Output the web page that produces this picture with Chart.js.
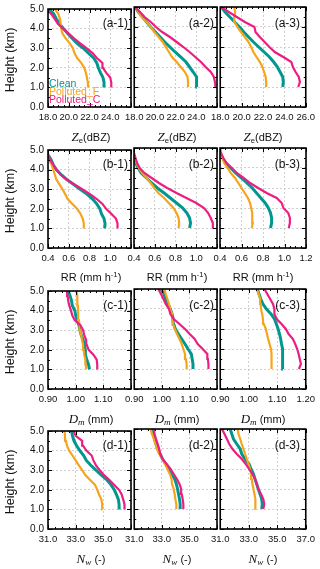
<!DOCTYPE html>
<html>
<head>
<meta charset="utf-8">
<script src="https://cdn.jsdelivr.net/npm/chart.js@4/dist/chart.umd.min.js"></script>
<style>
  body { margin: 0; background: #fff; }
  #fig { position: relative; width: 320px; height: 569px; overflow: hidden; color: #111; }
  #fig canvas { position: absolute; }
  .txt { position: absolute; white-space: nowrap; line-height: 1; font-family: "Liberation Sans", Arial, sans-serif; }
  .serif { font-family: "Liberation Serif", "DejaVu Serif", serif; font-style: italic; font-size: 13px; }
  sub { font-size: 70%; vertical-align: -2px; line-height: 0; }
  sup { font-size: 70%; vertical-align: 4px; line-height: 0; }
</style>
</head>
<body>
<div id="fig"></div>
<script>
// heights (km) shared by every profile
const heights = [1.0, 1.25, 1.5, 1.75, 2.0, 2.25, 2.5, 2.75, 3.0, 3.25, 3.5, 3.75, 4.0, 4.25, 4.5, 4.75, 5.0];
const heightTicks = [0, 1, 2, 3, 4, 5];

const seriesNames = ['Clean', 'Polluted_F', 'Polluted_C'];

// Ze (dBZ), one array per column
const zeClean = [
  [23.4, 23.4, 23.3, 23.05, 22.85, 22.7, 22.4, 21.9, 21.4, 20.8, 20.35, 19.9, 19.5, 19.1, 18.8, 18.55, 18.1],
  [24.05, 24.05, 24.0, 23.7, 23.35, 23.0, 22.5, 21.95, 21.45, 20.95, 20.5, 20.05, 19.6, 19.2, 18.8, 18.4, 18.1],
  [23.85, 23.9, 23.85, 23.6, 23.35, 23.0, 22.6, 22.1, 21.6, 21.1, 20.65, 20.2, 19.8, 19.35, 18.9, 18.45, 18.1]
];
const zeF = [
  [21.85, 21.85, 21.75, 21.65, 21.5, 21.2, 20.8, 20.55, 20.4, 20.1, 19.7, 19.4, 19.27, 19.22, 19.15, 19.0, 18.65],
  [23.2, 23.2, 23.15, 22.9, 22.5, 22.1, 21.65, 21.35, 21.05, 20.75, 20.35, 19.95, 19.6, 19.2, 18.7, 18.4, 18.15],
  [22.3, 22.3, 22.25, 22.1, 21.95, 21.7, 21.4, 21.1, 20.9, 20.65, 20.3, 19.95, 19.6, 19.35, 19.3, 19.4, 19.3]
];
const zeC = [
  [24.1, 24.1, 24.0, 23.6, 23.3, 23.25, 22.7, 22.3, 21.7, 21.1, 20.5, 20.0, 19.45, 18.95, 18.65, 18.3, 17.9],
  [25.85, 25.8, 25.7, 25.4, 24.9, 24.45, 23.9, 23.35, 22.75, 22.1, 21.45, 20.7, 20.1, 19.6, 19.0, 18.55, 18.1],
  [25.3, 25.45, 25.35, 25.05, 24.8, 24.65, 23.9, 23.1, 22.6, 22.15, 21.7, 21.3, 21.2, 20.3, 19.55, 18.8, 18.1]
];
const zeTicks = [18, 20, 22, 24, 26];

// RR (mm h-1)
const rrClean = [
  [0.946, 0.95, 0.94, 0.915, 0.90, 0.87, 0.83, 0.775, 0.71, 0.645, 0.58, 0.525, 0.48, 0.45, 0.43, 0.40, 0.37],
  [0.936, 0.945, 0.936, 0.91, 0.87, 0.81, 0.75, 0.69, 0.625, 0.57, 0.52, 0.47, 0.44, 0.415, 0.40, 0.38, 0.36],
  [0.87, 0.88, 0.88, 0.87, 0.85, 0.82, 0.78, 0.74, 0.70, 0.65, 0.60, 0.545, 0.50, 0.455, 0.425, 0.40, 0.37]
];
const rrF = [
  [0.745, 0.745, 0.735, 0.713, 0.68, 0.635, 0.59, 0.565, 0.54, 0.51, 0.48, 0.465, 0.45, 0.435, 0.41, 0.39, 0.36],
  [0.83, 0.835, 0.83, 0.81, 0.78, 0.735, 0.69, 0.635, 0.595, 0.56, 0.52, 0.48, 0.445, 0.425, 0.403, 0.38, 0.36],
  [0.695, 0.705, 0.70, 0.70, 0.69, 0.68, 0.66, 0.63, 0.60, 0.57, 0.54, 0.50, 0.47, 0.44, 0.42, 0.41, 0.41]
];
const rrC = [
  [1.07, 1.07, 1.055, 1.01, 0.96, 0.925, 0.87, 0.805, 0.73, 0.65, 0.575, 0.52, 0.48, 0.45, 0.42, 0.40, 0.37],
  [1.155, 1.16, 1.14, 1.115, 1.075, 1.0, 0.905, 0.81, 0.72, 0.64, 0.57, 0.50, 0.455, 0.43, 0.415, 0.40, 0.38],
  [1.04, 1.05, 1.05, 1.035, 0.99, 0.974, 0.927, 0.834, 0.755, 0.68, 0.62, 0.555, 0.51, 0.46, 0.43, 0.41, 0.37]
];
const rrTicks = [0.4, 0.6, 0.8, 1.0, 1.2];

// Dm (mm)
const dmClean = [
  [1.05, 1.0465, 1.04, 1.035, 1.035, 1.031, 1.027, 1.02, 1.015, 1.012, 1.006, 1.0, 0.997, 0.988, 0.985, 0.98, 0.973],
  [1.113, 1.113, 1.11, 1.107, 1.095, 1.084, 1.072, 1.06, 1.049, 1.043, 1.041, 1.037, 1.031, 1.022, 1.014, 1.008, 0.997],
  [1.12, 1.12, 1.12, 1.118, 1.117, 1.115, 1.112, 1.108, 1.103, 1.097, 1.09, 1.078, 1.062, 1.05, 1.042, 1.036, 1.03]
];
const dmF = [
  [1.038, 1.037, 1.035, 1.031, 1.029, 1.027, 1.023, 1.02, 1.015, 1.014, 1.012, 1.009, 1.009, 1.008, 1.006, 1.006, 1.003],
  [1.09, 1.09, 1.087, 1.084, 1.078, 1.072, 1.064, 1.055, 1.047, 1.041, 1.037, 1.037, 1.031, 1.026, 1.02, 1.014, 1.01],
  [1.08, 1.08, 1.08, 1.08, 1.078, 1.073, 1.068, 1.064, 1.06, 1.053, 1.05, 1.047, 1.043, 1.042, 1.04, 1.035, 1.028]
];
const dmC = [
  [1.078, 1.078, 1.076, 1.064, 1.047, 1.04, 1.038, 1.031, 1.027, 1.017, 0.997, 0.988, 0.983, 0.977, 0.973, 0.971, 0.969],
  [1.169, 1.169, 1.167, 1.165, 1.148, 1.13, 1.119, 1.101, 1.084, 1.064, 1.043, 1.031, 1.026, 1.014, 1.006, 0.997, 0.987],
  [1.176, 1.183, 1.179, 1.175, 1.17, 1.163, 1.155, 1.14, 1.13, 1.115, 1.098, 1.09, 1.09, 1.085, 1.075, 1.065, 1.055]
];
const dmTicks = [0.9, 1.0, 1.1, 1.2];

// Nw (-)
const nwClean = [
  [36.14, 36.14, 36.09, 35.95, 35.79, 35.56, 35.26, 34.86, 34.47, 34.09, 33.77, 33.58, 33.3, 33.07, 32.88, 32.77, 32.7],
  [34.33, 34.33, 34.28, 34.21, 34.14, 34.05, 33.93, 33.74, 33.51, 33.28, 33.05, 32.88, 32.7, 32.58, 32.47, 32.4, 32.3],
  [33.91, 33.95, 33.91, 33.79, 33.67, 33.56, 33.44, 33.33, 33.16, 33.02, 32.74, 32.51, 32.4, 32.16, 31.93, 31.81, 31.7]
];
const nwF = [
  [34.93, 34.92, 34.86, 34.7, 34.56, 34.4, 34.05, 33.7, 33.47, 33.23, 33.0, 32.77, 32.53, 32.37, 32.3, 32.23, 32.19],
  [34.05, 34.05, 33.98, 33.93, 33.86, 33.74, 33.7, 33.58, 33.4, 33.23, 33.05, 32.81, 32.65, 32.53, 32.42, 32.28, 32.19],
  [33.49, 33.49, 33.44, 33.4, 33.33, 33.26, 33.21, 33.16, 33.09, 32.98, 32.86, 32.74, 32.63, 32.51, 32.4, 32.28, 32.23]
];
const nwC = [
  [36.53, 36.53, 36.44, 36.33, 36.14, 35.79, 35.44, 35.05, 34.74, 34.47, 34.28, 34.16, 33.77, 33.53, 33.47, 33.0, 32.84],
  [34.56, 34.56, 34.51, 34.44, 34.4, 34.28, 34.09, 33.86, 33.63, 33.35, 33.05, 32.88, 32.81, 32.7, 32.58, 32.47, 32.42],
  [34.02, 34.09, 34.02, 33.86, 33.67, 33.56, 33.44, 33.26, 33.02, 32.79, 32.51, 32.16, 31.86, 31.63, 31.47, 31.3, 31.12]
];
const nwTicks = [31, 33, 35, 37];

const rows = [
  { key: 'a', series: [zeClean, zeF, zeC], ticks: zeTicks, dec: 1, minor: 4, title: '<span class="serif">Z</span><sub>e</sub>(dBZ)' },
  { key: 'b', series: [rrClean, rrF, rrC], ticks: rrTicks, dec: 1, minor: 4, title: 'RR (mm h<sup>-1</sup>)' },
  { key: 'c', series: [dmClean, dmF, dmC], ticks: dmTicks, dec: 2, minor: 4, title: '<span class="serif">D<sub>m</sub></span> (mm)' },
  { key: 'd', series: [nwClean, nwF, nwC], ticks: nwTicks, dec: 1, minor: 4, title: '<span class="serif">N<sub>w</sub></span> (-)' }
];

const colors = ['#00978f', '#f6a41c', '#ec1e82'];
const widths = [3, 2.2, 2.2];

// layout
const colX = [48, 134, 220];
const rowY = [7, 148, 289, 429];
const PW = 86, PH = 100;

const fig = document.getElementById('fig');

// frame with inward major and minor ticks
const framePlugin = {
  id: 'frame',
  afterDatasetsDraw(chart) {
    const { ctx, chartArea: a, scales } = chart;
    const nx = chart.options.plugins.frame.minorX;
    ctx.save();
    ctx.strokeStyle = '#000';
    ctx.lineWidth = 1;
    ctx.beginPath();
    const marks = (scale, n, horiz) => {
      const t = scale.ticks.map(k => k.value);
      const vals = [];
      for (let i = 0; i < t.length; i++) {
        vals.push([t[i], 4]);
        if (i < t.length - 1) {
          for (let j = 1; j < n; j++) vals.push([t[i] + (t[i + 1] - t[i]) * j / n, 2]);
        }
      }
      vals.forEach(([v, len]) => {
        const p = Math.round(scale.getPixelForValue(v)) + 0.5;
        if (horiz) {
          ctx.moveTo(p, a.bottom); ctx.lineTo(p, a.bottom - len);
          ctx.moveTo(p, a.top); ctx.lineTo(p, a.top + len);
        } else {
          ctx.moveTo(a.left, p); ctx.lineTo(a.left + len, p);
          ctx.moveTo(a.right, p); ctx.lineTo(a.right - len, p);
        }
      });
    };
    marks(scales.x, nx, true);
    marks(scales.y, 2, false);
    ctx.stroke();
    ctx.lineWidth = 1.6;
    ctx.strokeRect(a.left, a.top, a.right - a.left, a.bottom - a.top);
    ctx.restore();
  }
};

function addText(html, style, cls) {
  const d = document.createElement('div');
  d.className = 'txt' + (cls ? ' ' + cls : '');
  d.innerHTML = html;
  Object.assign(d.style, style);
  fig.appendChild(d);
  return d;
}

rows.forEach((row, r) => {
  const ticks = row.ticks;
  for (let c = 0; c < 3; c++) {
    const padL = c === 0 ? 48 : 14;
    const padR = c === 2 ? 14 : 2;
    const padT = 8, padB = 22;
    const W = PW + padL + padR, H = PH + padT + padB;
    const cv = document.createElement('canvas');
    cv.width = W; cv.height = H;
    cv.style.width = W + 'px'; cv.style.height = H + 'px';
    cv.style.left = (colX[c] - padL) + 'px';
    cv.style.top = (rowY[r] - padT) + 'px';
    fig.appendChild(cv);

    const datasets = row.series.map((s, k) => ({
      label: seriesNames[k],
      data: heights.map((h, i) => ({ x: s[c][i], y: h })),
      borderColor: colors[k],
      borderWidth: widths[k],
      pointRadius: 0,
      tension: 0,
      fill: false,
      order: [2, 1, 0][k],
      clip: 0
    }));

    const lastShown = c === 2;
    new Chart(cv, {
      type: 'line',
      data: { datasets },
      options: {
        responsive: false,
        animation: false,
        devicePixelRatio: 1,
        layout: { padding: { top: padT, right: padR, left: 0, bottom: 0 } },
        plugins: { legend: { display: false }, tooltip: { enabled: false }, frame: { minorX: row.minor } },
        scales: {
          x: {
            type: 'linear',
            min: ticks[0], max: ticks[ticks.length - 1],
            afterBuildTicks: s => { s.ticks = ticks.map(v => ({ value: v })); },
            ticks: {
              autoSkip: false, maxRotation: 0, padding: 5,
              color: '#111', font: { family: 'Liberation Sans', size: 9.5 },
              callback: (v, i, arr) => (i === arr.length - 1 && !lastShown) ? '' : Number(v).toFixed(row.dec)
            },
            grid: { color: '#c4c4c4', lineWidth: 0.8, drawTicks: false },
            border: { display: false, dash: [2, 2] },
            afterFit: s => { s.height = padB; }
          },
          y: {
            type: 'linear',
            min: 0, max: 5,
            afterBuildTicks: s => { s.ticks = heightTicks.map(v => ({ value: v })); },
            ticks: {
              display: c === 0, padding: 4,
              color: '#111', font: { family: 'Liberation Sans', size: 10 },
              callback: v => Number(v).toFixed(1)
            },
            grid: { color: '#c4c4c4', lineWidth: 0.8, drawTicks: false },
            border: { display: false, dash: [2, 2] },
            afterFit: s => { s.width = padL; }
          }
        }
      },
      plugins: [framePlugin]
    });

    // panel tag
    addText('(' + row.key + '-' + (c + 1) + ')', {
      left: colX[c] + 'px', width: (PW - 6) + 'px', textAlign: 'right',
      top: (rowY[r] + 10) + 'px', fontSize: '12px'
    });
    // axis title
    addText(row.title, {
      left: (colX[c] + PW / 2) + 'px', top: (rowY[r] + PH + 29) + 'px',
      transform: 'translate(-50%, -50%)', fontSize: '11px'
    });
  }
  addText('Height (km)', {
    left: '10px', top: (rowY[r] + PH / 2 + 3) + 'px',
    transform: 'translate(-50%, -50%) rotate(-90deg)', fontSize: '12.5px'
  });
});

// legend inside (a-1)
seriesNames.forEach((n, k) => {
  addText(n, { left: '49px', top: (78 + k * 8.2) + 'px', fontSize: '10.5px', color: colors[k] });
});
</script>
</body>
</html>
